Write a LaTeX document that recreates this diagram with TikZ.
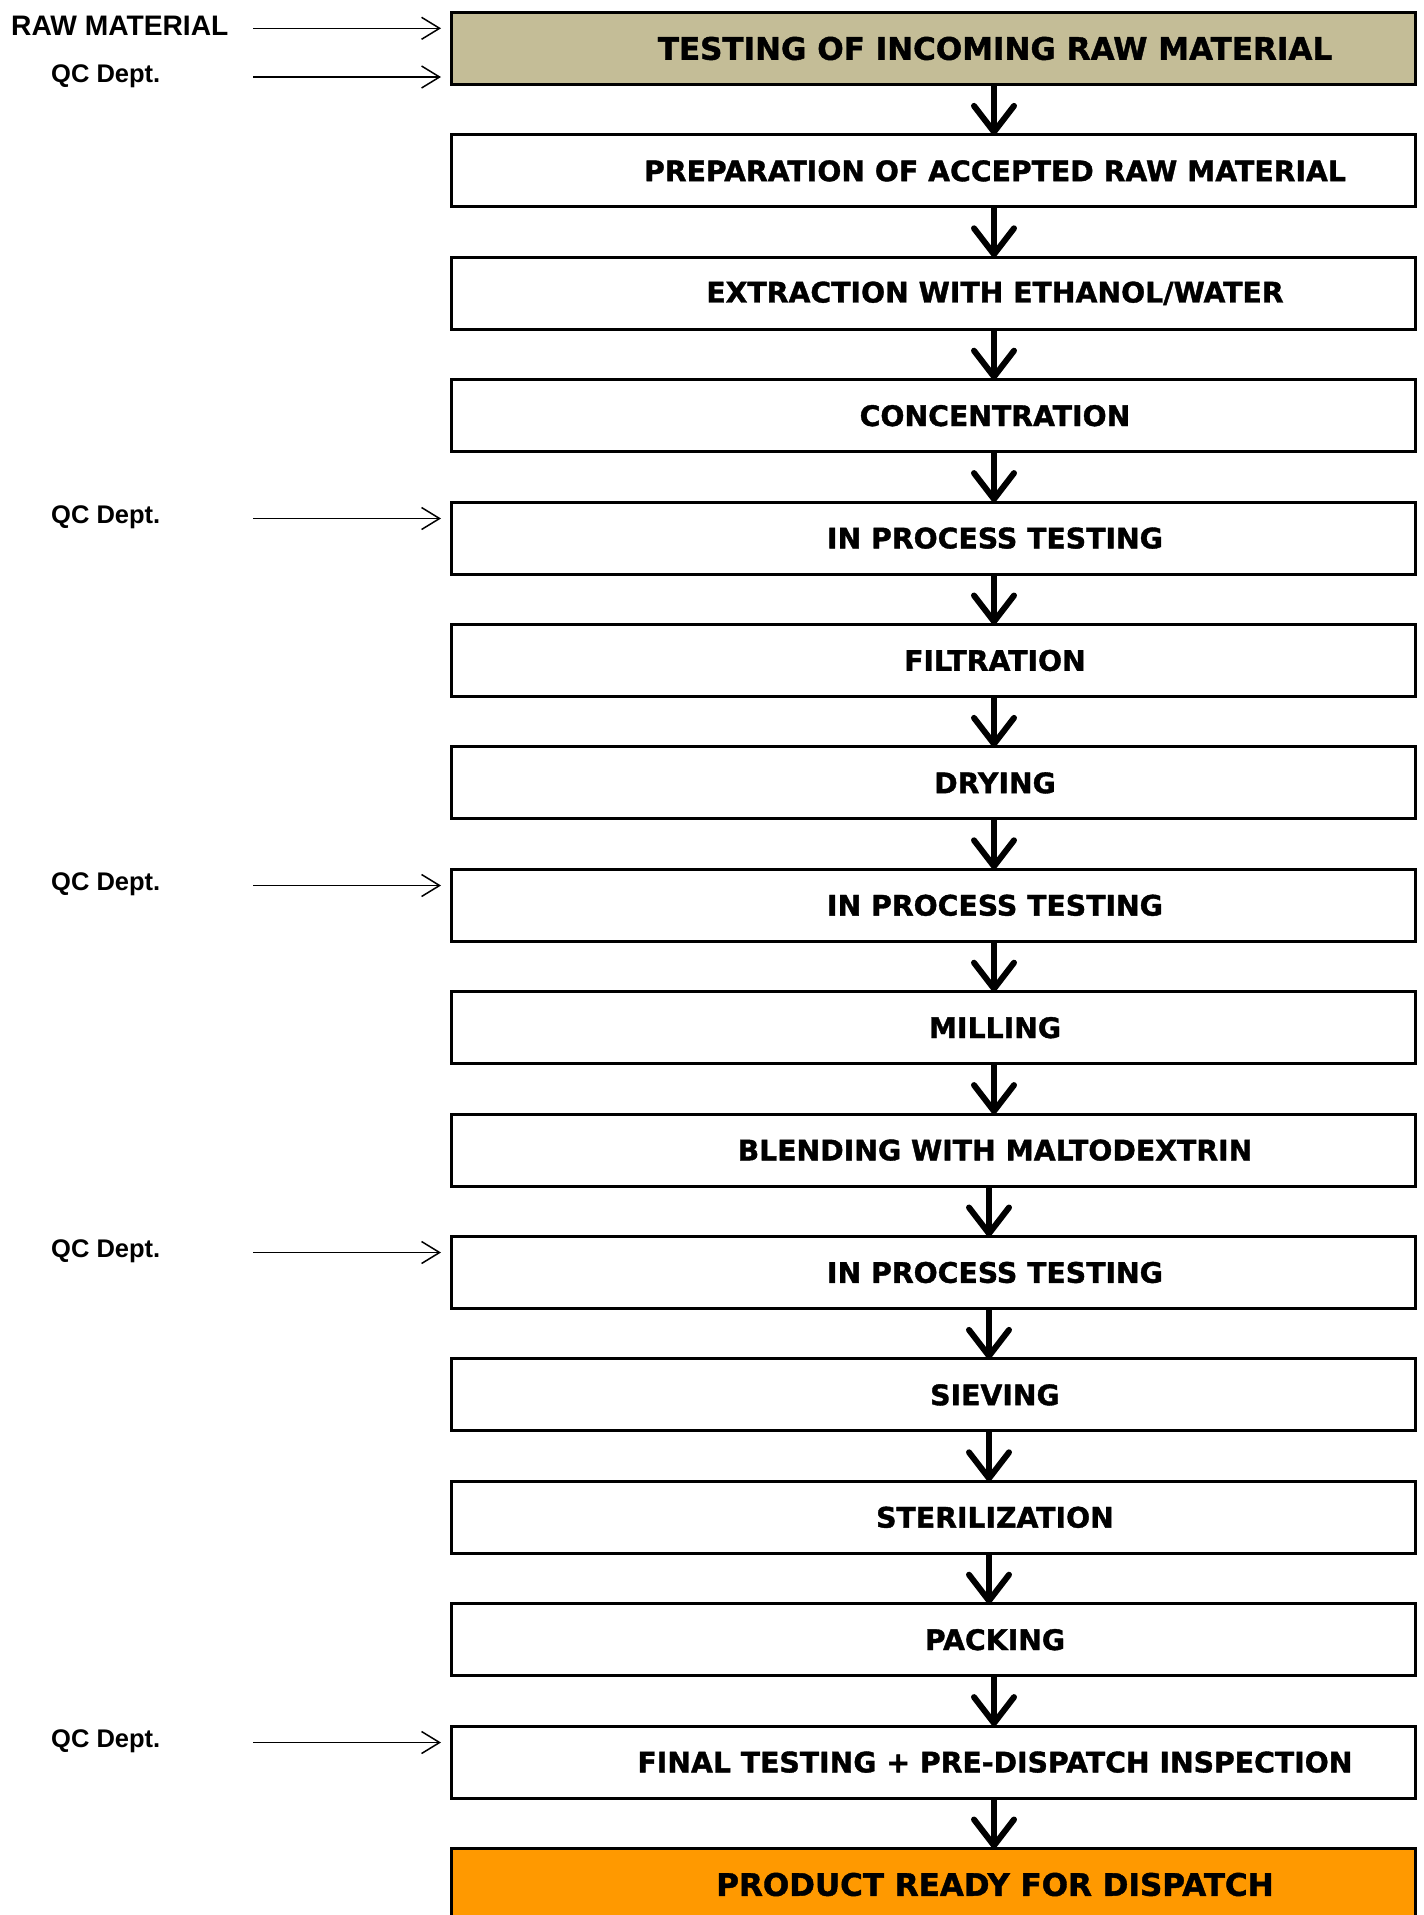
\documentclass[tikz,border=0pt]{standalone}
\usepackage{fontspec}
\setmainfont{Liberation Sans}
\newfontfamily\boxfont{DejaVu Sans}[BoldFeatures={FakeBold=1.3}]
\usetikzlibrary{arrows.meta}
\definecolor{tanfill}{HTML}{C4BD97}
\definecolor{orangefill}{HTML}{FF9900}
\begin{document}
\begin{tikzpicture}[x=1pt,y=-1pt,
  stepbox/.style={draw=black, line width=3pt, fill=white, minimum width=964pt, minimum height=72pt, inner sep=0pt, outer sep=0pt},
  steptext/.style={font=\boxfont\bfseries\fontsize{28.3}{28.3}\selectfont, inner sep=0pt, xshift=62pt},
  bigtext/.style={steptext, font=\boxfont\bfseries\fontsize{31}{31}\selectfont},
  flow/.style={line width=6pt, -{Straight Barb[length=26pt,width=40pt,round]}},
  feed/.style={line width=1.5pt, -{Straight Barb[length=18pt,width=22pt]}},
  side/.style={font=\bfseries\fontsize{25.5}{25.5}\selectfont, anchor=base west, inner sep=0pt}]
\useasboundingbox (0,0) rectangle (1424,1915);
\clip (0,0) rectangle (1424,1915);
\fill[white] (0,0) rectangle (1424,1915);

\node[stepbox, fill=tanfill, label={[bigtext]center:TESTING OF INCOMING RAW MATERIAL}] (b1) at (933,48.5) {};
\node[stepbox, label={[steptext]center:PREPARATION OF ACCEPTED RAW MATERIAL}] (b2) at (933,170.9) {};
\node[stepbox, label={[steptext]center:EXTRACTION WITH ETHANOL/WATER}] (b3) at (933,293.3) {};
\node[stepbox, label={[steptext]center:CONCENTRATION}] (b4) at (933,415.7) {};
\node[stepbox, label={[steptext]center:IN PROCESS TESTING}] (b5) at (933,538.1) {};
\node[stepbox, label={[steptext]center:FILTRATION}] (b6) at (933,660.5) {};
\node[stepbox, label={[steptext]center:DRYING}] (b7) at (933,782.9) {};
\node[stepbox, label={[steptext]center:IN PROCESS TESTING}] (b8) at (933,905.3) {};
\node[stepbox, label={[steptext]center:MILLING}] (b9) at (933,1027.7) {};
\node[stepbox, label={[steptext]center:BLENDING WITH MALTODEXTRIN}] (b10) at (933,1150.1) {};
\node[stepbox, label={[steptext]center:IN PROCESS TESTING}] (b11) at (933,1272.5) {};
\node[stepbox, label={[steptext]center:SIEVING}] (b12) at (933,1394.9) {};
\node[stepbox, label={[steptext]center:STERILIZATION}] (b13) at (933,1517.3) {};
\node[stepbox, label={[steptext]center:PACKING}] (b14) at (933,1639.7) {};
\node[stepbox, label={[steptext]center:FINAL TESTING + PRE-DISPATCH INSPECTION}] (b15) at (933,1762.1) {};
\node[stepbox, fill=orangefill, label={[bigtext]center:PRODUCT READY FOR DISPATCH}] (b16) at (933,1884.5) {};

\coordinate (ax) at (994,0);
\coordinate (bx) at (989,0);
\draw[flow] (b1.south -| ax) -- (b2.north -| ax);
\draw[flow] (b2.south -| ax) -- (b3.north -| ax);
\draw[flow] (b3.south -| ax) -- (b4.north -| ax);
\draw[flow] (b4.south -| ax) -- (b5.north -| ax);
\draw[flow] (b5.south -| ax) -- (b6.north -| ax);
\draw[flow] (b6.south -| ax) -- (b7.north -| ax);
\draw[flow] (b7.south -| ax) -- (b8.north -| ax);
\draw[flow] (b8.south -| ax) -- (b9.north -| ax);
\draw[flow] (b9.south -| ax) -- (b10.north -| ax);
\draw[flow] (b10.south -| bx) -- (b11.north -| bx);
\draw[flow] (b11.south -| bx) -- (b12.north -| bx);
\draw[flow] (b12.south -| bx) -- (b13.north -| bx);
\draw[flow] (b13.south -| bx) -- (b14.north -| bx);
\draw[flow] (b14.south -| ax) -- (b15.north -| ax);
\draw[flow] (b15.south -| ax) -- (b16.north -| ax);

\node[side, font=\bfseries\fontsize{28.2}{28.2}\selectfont] (raw) at (11,35) {RAW MATERIAL};
\node[side] (qc1) at (51,82) {QC Dept.};
\node[side] (qc2) at (51,523.5) {QC Dept.};
\node[side] (qc3) at (51,890.5) {QC Dept.};
\node[side] (qc4) at (51,1257.5) {QC Dept.};
\node[side] (qc5) at (51,1747.5) {QC Dept.};

\coordinate (r0) at (253,28.3); \coordinate (r1) at (441,28.3);
\coordinate (q1s) at (253,77); \coordinate (q1e) at (441,77);
\coordinate (q2s) at (253,518.5); \coordinate (q2e) at (441,518.5);
\coordinate (q3s) at (253,885.5); \coordinate (q3e) at (441,885.5);
\coordinate (q4s) at (253,1252.5); \coordinate (q4e) at (441,1252.5);
\coordinate (q5s) at (253,1742.5); \coordinate (q5e) at (441,1742.5);
\draw[feed] (r0) -- (r1);
\draw[feed] (q1s) -- (q1e);
\draw[feed] (q2s) -- (q2e);
\draw[feed] (q3s) -- (q3e);
\draw[feed] (q4s) -- (q4e);
\draw[feed] (q5s) -- (q5e);
\end{tikzpicture}
\end{document}
